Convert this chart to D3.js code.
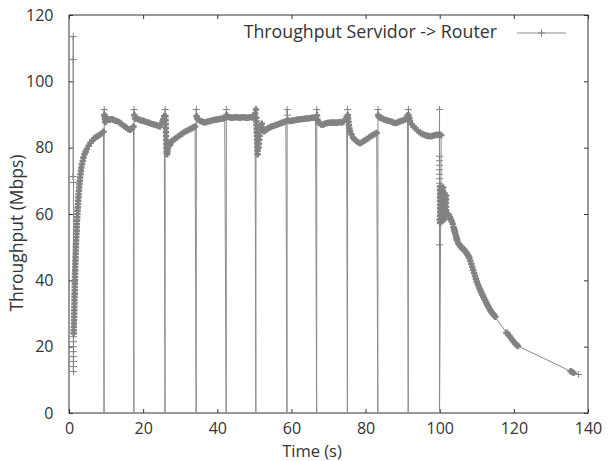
<!DOCTYPE html>
<html>
<head>
<meta charset="utf-8">
<script src="https://cdn.jsdelivr.net/npm/d3@7"></script>
<style>
  body { margin: 0; background: #fff; }
  text { font-family: "Open Sans", "Noto Sans", sans-serif; fill: #333; }
</style>
</head>
<body>
<svg id="chart" width="612" height="461"></svg>
<script>
// values: [time (s), throughput (Mbps)]
const startBurst = [
  [1.1, 71.3], [1.15, 113.5], [1.15, 106.6], [1.2, 69.5], [1.2, 23], [1.2, 21.5],
  [1.2, 20], [1.2, 18.5], [1.2, 17], [1.2, 15.5], [1.2, 14], [1.2, 12.5]
]

const rampUp = [
  [1.25, 24], [1.28, 25], [1.3, 26], [1.33, 27], [1.35, 28], [1.38, 29], [1.4, 30],
  [1.43, 31], [1.45, 32], [1.47, 33], [1.48, 34], [1.5, 35], [1.52, 36], [1.54, 37],
  [1.56, 38], [1.58, 39], [1.6, 40], [1.62, 41], [1.64, 42], [1.67, 43], [1.7, 44],
  [1.72, 45], [1.75, 46], [1.78, 47], [1.8, 48], [1.83, 49], [1.86, 50], [1.89, 51],
  [1.92, 52], [1.96, 53], [2.0, 54], [2.04, 55], [2.08, 56], [2.12, 57], [2.16, 58],
  [2.21, 59], [2.26, 60], [2.31, 61], [2.36, 62], [2.42, 63], [2.48, 64], [2.54, 65],
  [2.6, 66], [2.67, 67], [2.75, 68], [2.82, 69], [2.9, 70], [3.0, 71], [3.1, 72],
  [3.22, 73], [3.35, 74], [3.5, 75], [3.7, 76], [3.9, 77], [4.2, 78], [4.5, 78.8],
  [4.8, 79.6], [5.3, 80.6], [5.8, 81.5], [6.3, 82.2], [6.8, 82.8], [7.3, 83.2],
  [7.8, 83.5], [8.3, 83.9], [8.8, 84.3], [9.3, 84.8]
]

const steady = [
  [9.45, 0], [9.5, 91.5], [9.55, 89.9], [9.6, 89.5], [9.7, 88.7], [9.8, 87.7], [9.9, 88.3], [10, 88.8],
  [10.5, 88.6], [11, 88.4], [11.5, 88.6], [12, 88.4], [12.5, 88.1], [13, 88], [13.5, 87.7],
  [14, 87.3], [14.5, 86.8], [15, 86.4], [15.5, 86], [16, 85.6], [16.5, 85.4], [17, 85.8], [17.4, 86.4],
  [17.5, 0], [17.55, 91.5], [17.6, 89.8], [17.8, 88.8], [18.2, 88.8], [18.6, 88.6], [19, 88.4],
  [19.5, 88.2], [20, 88.1], [20.5, 87.9], [21, 87.7], [21.5, 87.5], [22, 87.3], [22.5, 87.1],
  [23, 87], [23.5, 86.8], [24, 86.6], [24.5, 86.4], [25, 87], [25.2, 87.8], [25.4, 88.5], [25.7, 89.5],
  [25.9, 0], [25.95, 91.5], [26, 89.5], [26.04, 88.3], [26.08, 87.1], [26.12, 85.9], [26.16, 84.7],
  [26.2, 83.5], [26.24, 82.3], [26.28, 81.1], [26.32, 79.9], [26.36, 78.7], [26.45, 78],
  [26.52, 78.8], [26.6, 79.6], [26.7, 80.5], [26.8, 81.3], [27, 80.6], [27.3, 81], [27.6, 81.8],
  [28, 82.2], [28.5, 82.6], [29, 83], [29.5, 83.4], [30, 83.8], [30.5, 84.2], [31, 84.6],
  [31.5, 84.9], [32, 85.2], [32.5, 85.5], [33, 85.8], [33.5, 86.1], [34, 86.4],
  [34.3, 0], [34.35, 91.5], [34.4, 89.5], [34.6, 88.8], [35, 88.3], [35.5, 88], [36, 87.8],
  [36.5, 87.6], [37, 87.7], [37.5, 87.9], [38, 88], [38.5, 88.2], [39, 88.3], [39.5, 88.4],
  [40, 88.5], [40.5, 88.6], [41, 88.7], [41.5, 88.8], [42, 89],
  [42.4, 0], [42.45, 91.5], [42.5, 89.8], [42.7, 89.3], [43, 89.2], [43.5, 89.1], [44, 89],
  [44.5, 89.1], [45, 89.2], [45.5, 89.1], [46, 89], [46.5, 89.1], [47, 89.2], [47.5, 89.1],
  [48, 89], [48.5, 89.1], [49, 89.2], [49.5, 89.1], [50, 89.3], [50.2, 90.3],
  [50.4, 0], [50.45, 91.5], [50.5, 89], [50.54, 87.9], [50.58, 86.8], [50.62, 85.7], [50.66, 84.6],
  [50.7, 83.5], [50.74, 82.4], [50.78, 81.3], [50.82, 80.2], [50.86, 79.1], [50.9, 78],
  [51.1, 80], [51.2, 81.2], [51.3, 82.4], [51.4, 83.6], [51.5, 84.8], [51.6, 86], [52, 87.2],
  [52.2, 86.1], [52.4, 85], [52.8, 85], [53.2, 85.5], [53.6, 85.8], [54, 86], [54.5, 86.3],
  [55, 86.5], [55.5, 86.7], [56, 86.9], [56.5, 87.1], [57, 87.3], [57.5, 87.5], [58, 87.7], [58.5, 88],
  [58.8, 0], [58.85, 91.5], [58.9, 89.8], [59, 88.3], [59.5, 88], [60, 88.1], [60.5, 88.2],
  [61, 88.3], [61.5, 88.4], [62, 88.5], [62.5, 88.6], [63, 88.6], [63.5, 88.7], [64, 88.8],
  [64.5, 88.8], [65, 88.9], [65.5, 89], [66, 89], [66.5, 89.1],
  [66.8, 0], [66.85, 91.5], [66.9, 89.7], [67, 88.5], [67.2, 87.8], [67.5, 87.4], [68, 87], [68.5, 86.9],
  [69, 87.2], [69.5, 87.4], [70, 87.5], [70.5, 87.5], [71, 87.6], [71.5, 87.6], [72, 87.5],
  [72.5, 87.6], [73, 87.7], [73.5, 87.6], [74, 87.8], [74.5, 88.5], [74.9, 89.2],
  [75.1, 0], [75.15, 91.5], [75.2, 89.8], [75.3, 88.8], [75.4, 87.8], [75.5, 86.8], [75.65, 85.8],
  [75.8, 84.9], [76.2, 84], [76.6, 83], [77, 82.5], [77.5, 82], [78, 81.6], [78.5, 81.3],
  [79, 81.6], [79.5, 82], [80, 82.3], [80.5, 82.7], [81, 83.1], [81.5, 83.5], [82, 83.8],
  [82.5, 84.1], [83, 84.4],
  [83.3, 0], [83.35, 91.5], [83.4, 89.8], [83.6, 89.2], [84, 89], [84.5, 88.8], [85, 88.5], [85.5, 88.3],
  [86, 88.1], [86.5, 88], [87, 87.8], [87.5, 87.6], [88, 87.4], [88.5, 87.5], [89, 87.8],
  [89.5, 88], [90, 88.2], [90.5, 88.4], [91, 88.6], [91.3, 89.7],
  [91.5, 0], [91.55, 91.5], [91.6, 89.8], [91.8, 88.9], [92, 88], [92.5, 87], [93, 86.3], [93.5, 85.8],
  [94, 85.2], [94.5, 84.7], [95, 84.3], [95.5, 84], [96, 83.8], [96.5, 83.6], [97, 83.5],
  [97.5, 83.4], [98, 83.5], [98.5, 83.7], [99, 83.8], [99.5, 83.9], [100, 83.8], [100.4, 83.8]
]

const dropAt100 = [
  [99.95, 0], [99.95, 91.5], [99.95, 77.4], [99.95, 76.05], [99.95, 74.7], [99.95, 73.35],
  [99.95, 72], [99.95, 70.65], [99.95, 69.3], [99.95, 58.3], [99.95, 50.7],
  [100.1, 68.3], [100.1, 67.2], [100.1, 66.1], [100.1, 65], [100.1, 63.9], [100.1, 62.8],
  [100.1, 61.7], [100.1, 60.6], [100.1, 59.5], [100.1, 58.4], [100.1, 57.4],
  [100.5, 57.8], [100.5, 58.9], [100.5, 60], [100.5, 61.1], [100.5, 62.2], [100.5, 63.3],
  [100.5, 64.4], [100.5, 65.5], [100.5, 66.6], [100.5, 67.7],
  [100.9, 68], [100.9, 66.9], [100.9, 65.8], [100.9, 64.7], [100.9, 63.6], [100.9, 62.5],
  [100.9, 61.4], [100.9, 60.3], [100.9, 59.2], [100.9, 58.2],
  [101.3, 58.5], [101.3, 59.6], [101.3, 60.7], [101.3, 61.8], [101.3, 62.9], [101.3, 64],
  [101.3, 65.1], [101.3, 66.2],
  [101.7, 65.5], [101.7, 64.4], [101.7, 63.3], [101.7, 62.2], [101.7, 61.1], [101.8, 60.2]
]

const decay = [
  [102.1, 60], [102.3, 59.8], [102.5, 59.5], [102.75, 59], [103, 58.3], [103.25, 57.7],
  [103.5, 57], [103.75, 56], [103.9, 55.4], [104, 55], [104.1, 54.5], [104.25, 53.9],
  [104.4, 53.2], [104.5, 52.8], [104.6, 52.4], [104.75, 52], [105, 51.2], [105.25, 50.8],
  [105.5, 50.4], [105.75, 50.1], [106, 49.8], [106.25, 49.5], [106.5, 49.3], [106.75, 49],
  [107, 48.6], [107.25, 48.2], [107.5, 47.8], [107.75, 47.3], [108, 46.8], [108.25, 45.9],
  [108.5, 45], [108.75, 44.1], [109, 43.2], [109.25, 42.3], [109.5, 41.4], [109.75, 40.5],
  [110, 39.6], [110.25, 38.9], [110.5, 38.2], [110.75, 37.5], [111, 36.9], [111.25, 36.3],
  [111.5, 35.7], [111.75, 35.1], [112, 34.5], [112.25, 34], [112.5, 33.4], [112.75, 32.8],
  [113, 32.3], [113.25, 31.8], [113.5, 31.3], [113.75, 30.8], [114, 30.4], [114.25, 30],
  [114.5, 29.7], [114.75, 29.3], [115, 29]
]

const tail = [
  [118, 24.2], [118.4, 23.8], [118.8, 23.2], [119.2, 22.6], [119.6, 22], [120, 21.4],
  [120.4, 20.9], [120.8, 20.5], [121.1, 20.2],
  [135.3, 12.6], [135.7, 12.4], [136.1, 12.1], [137.4, 11.6]
]

const xTicks = [0, 20, 40, 60, 80, 100, 120, 140]
const yTicks = [0, 20, 40, 60, 80, 100, 120]
const seriesLabel = "Throughput Servidor -> Router"

const samples = startBurst.concat(rampUp, steady, dropAt100, decay, tail)

const margin = {top: 15, right: 24, bottom: 48, left: 69}
const width = 612 - margin.left - margin.right
const height = 461 - margin.top - margin.bottom
const lineColor = "#8a8a8a"
const markColor = "#828282"

const svg = d3.select("#chart")
const g = svg.append("g").attr("transform", `translate(${margin.left},${margin.top})`)

const x = d3.scaleLinear().domain([0, 140]).range([0, width])
const y = d3.scaleLinear().domain([0, 120]).range([height, 0])

// axes with gnuplot style inward ticks, mirrored on top / right
g.append("g").attr("transform", `translate(0,${height})`)
	.call(d3.axisBottom(x).tickValues(xTicks).tickSizeInner(-4).tickSizeOuter(0).tickPadding(10))
g.append("g")
	.call(d3.axisLeft(y).tickValues(yTicks).tickSizeInner(-4).tickSizeOuter(0).tickPadding(15.5))
g.append("g")
	.call(d3.axisTop(x).tickValues(xTicks).tickSizeInner(-4).tickSizeOuter(0).tickFormat(""))
g.append("g").attr("transform", `translate(${width},0)`)
	.call(d3.axisRight(y).tickValues(yTicks).tickSizeInner(-4).tickSizeOuter(0).tickFormat(""))

g.selectAll(".domain").remove()
g.selectAll(".tick line").attr("stroke", "#333")
g.selectAll(".tick text").style("font-size", "16px").attr("fill", "#333")

g.append("rect")
	.attr("width", width).attr("height", height)
	.attr("fill", "none").attr("stroke", "#333").attr("stroke-width", 1)

// series: line + "+" markers
const line = d3.line().x(d => x(d[0])).y(d => y(d[1]))

const plot = g.append("g")
plot.append("path")
	.datum(samples)
	.attr("d", line)
	.attr("fill", "none")
	.attr("stroke", lineColor)
	.attr("stroke-width", 1)

// where samples sit closer than a few pixels the "+" marks merge into a solid band
const marks = samples.filter(d => d[1] > 0).map(d => [x(d[0]), y(d[1])])
const near = (a, b) => b && Math.hypot(a[0] - b[0], a[1] - b[1]) < 4.2
marks.forEach((m, i) => { m.dense = near(m, marks[i - 1]) || near(m, marks[i + 1]) })

const plus = s => `M${-s},0H${s}M0,${-s}V${s}`
plot.selectAll(".pt")
	.data(marks)
	.enter()
	.append("path")
		.attr("class", "pt")
		.attr("transform", d => `translate(${d[0]},${d[1]})`)
		.attr("d", d => d.dense ? plus(3.2) : plus(3.5))
		.attr("stroke", markColor)
		.attr("stroke-width", d => d.dense ? 2.6 : 1)

// axis titles
svg.append("text")
	.attr("x", 312).attr("y", 457)
	.attr("text-anchor", "middle")
	.style("font-size", "16.5px")
	.text("Time (s)")

svg.append("text")
	.attr("transform", "translate(23,233) rotate(-90)")
	.attr("text-anchor", "middle")
	.style("font-size", "17.5px")
	.text("Throughput (Mbps)")

// legend
const legend = svg.append("g")
legend.append("text")
	.attr("x", 497).attr("y", 38)
	.attr("text-anchor", "end")
	.style("font-size", "17.8px")
	.text(seriesLabel)
legend.append("line")
	.attr("x1", 517).attr("x2", 566).attr("y1", 33).attr("y2", 33)
	.attr("stroke", lineColor)
legend.append("path")
	.attr("transform", "translate(541.5,33)")
	.attr("d", plus(3.5))
	.attr("stroke", markColor)
</script>
</body>
</html>
